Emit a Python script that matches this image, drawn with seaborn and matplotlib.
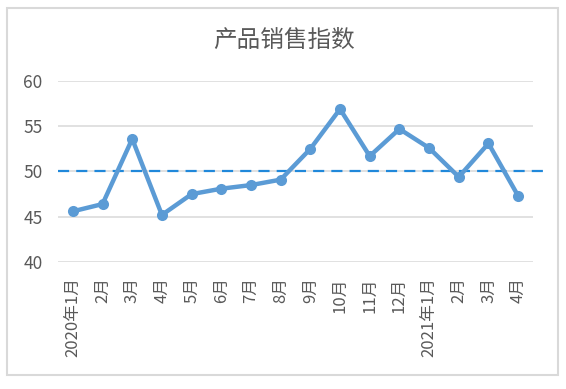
import matplotlib
matplotlib.use("Agg")
import matplotlib.pyplot as plt
import seaborn as sns
import pandas as pd
from matplotlib.patches import Rectangle

months = ["2020年1月", "2月", "3月", "4月", "5月", "6月", "7月", "8月", "9月",
          "10月", "11月", "12月", "2021年1月", "2月", "3月", "4月"]
values = [45.6, 46.4, 53.6, 45.2, 47.5, 48.1, 48.5, 49.1, 52.5,
          56.9, 51.7, 54.7, 52.6, 49.4, 53.1, 47.3]
yticks = [40, 45, 50, 55, 60]
reference_level = 50
title = "产品销售指数"

sns.set_theme(style="white")
plt.rcParams['font.family'] = ['Noto Sans CJK SC', 'DejaVu Sans']

df = pd.DataFrame({"idx": range(len(months)), "value": values})

fig = plt.figure(figsize=(5.66, 3.89), dpi=100)
ax = fig.add_axes([58/566, 1-262/389, (533-58)/566, (262-81)/389])

grid_color = "#D9D9D9"
for yv in yticks:
    ax.axhline(yv, color=grid_color, lw=1.1, zorder=0)

ax.plot([-0.5, 16.0], [reference_level, reference_level], color="#2088DA",
        lw=1.6, ls=(0, (5, 3.2)), clip_on=False, zorder=1)

sns.lineplot(data=df, x="idx", y="value", ax=ax, color="#5B9BD5", lw=3.2,
             marker="o", markersize=8, markeredgewidth=0, zorder=3)

ax.set_xlim(-0.5, 15.5)
ax.set_ylim(40, 60)
ax.set_yticks(yticks)
ax.set_yticklabels([str(v) for v in yticks], fontsize=12.5, color="#595959")
ax.set_xticks(range(len(months)))
ax.set_xticklabels(months, rotation=90, fontsize=12, color="#595959", va="top")
ax.tick_params(axis="y", length=0, pad=11)
ax.tick_params(axis="x", length=0, pad=11)
ax.set_xlabel("")
ax.set_ylabel("")
for s in ax.spines.values():
    s.set_visible(False)

fig.text(284/566, 1-40/389, title, ha="center", va="center", fontsize=17,
         color="#595959")

fig.patches.append(Rectangle((7/566, 1-375/389), (558-7)/566, (375-8)/389,
                             transform=fig.transFigure, fill=False,
                             edgecolor="#D9D9D9", lw=1.5))

fig.savefig("out.png", dpi=100)
